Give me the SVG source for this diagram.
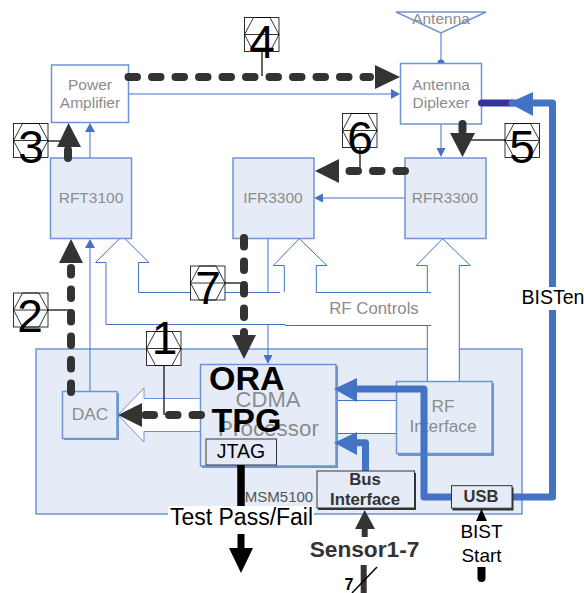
<svg xmlns="http://www.w3.org/2000/svg" width="584" height="593" viewBox="0 0 584 593">
<defs>
<style>
text{font-family:"Liberation Sans",Arial,sans-serif}
.b{fill:none;stroke:#4472c4;stroke-width:1}
.blk{fill:#e6ecf7;stroke:#6f94d2;stroke-width:1.5}
.pl{fill:#fff;stroke:#6f94d2;stroke-width:1.5}
.g{fill:#8c8c8c;text-anchor:middle;font-size:15.500px}
.dash{fill:none;stroke:#333;stroke-width:8;stroke-linecap:round;stroke-dasharray:8.500 15}
.lead{fill:none;stroke:#333;stroke-width:1.500}
.hex{fill:#fff;stroke:#000;stroke-width:.8}
.hexl{fill:none;stroke:#000;stroke-width:.8}
.n{fill:#000;font-size:46px;text-anchor:middle}
.k{fill:#000;text-anchor:middle}
.bus{fill:none;stroke:#4472c4;stroke-width:7;stroke-linejoin:round;stroke-linecap:round}
.chip{fill:#e6ecf7;stroke:#333;stroke-width:1}
.cb{font-weight:700;fill:#333;text-anchor:middle}
</style>
<g id="hexsym"><rect x="0" y="0" width="34.500" height="34" class="hex"/><path d="M0 17 L9 0 H25.500 L34.500 17 L25.500 34 H9 Z M0 17 H34.500" class="hexl"/></g>
</defs>
<rect width="584" height="593" fill="#fff"/>
<g id="msm5100"><rect x="36" y="349" width="486" height="165" class="blk"/><rect x="427.500" y="347" width="31.500" height="35" fill="#fff"/></g>
<g id="connectors">
<path class="b" d="M90 158V130M90 391V247M128 94H393M441 33V63M441 124V150M405 198H322M268 239V292.500M268 324.500V356"/>
<path d="M90 123l-5 9h10zM90 239l-5 9h10zM400 94l-9-5v10zM441 157l-4.500-9h9zM314 198l9-4.500v9zM268 364l-4.500-9h9z" fill="#4472c4"/>
<circle cx="441" cy="63" r="3.500" fill="#4472c4"/>
<path d="M106 262.500H95.500L122.300 236L149 262.500H138.500V292.500H280M106 262.500V324.500H285V325.500H431M284.300 265.500H273.300L299.300 238.700L327 265.500H316.300V292.500H431M284.300 265.500V292M427.300 292.500V265.500H416.300L442.700 238.700L470.300 265.500H459.300V381M427.300 325V381" class="b"/>
<path d="M118 415L144 388V398.500H200.500V431.500H144V442Z" fill="#fff" stroke="#6f94d2"/>
<rect x="336" y="400.500" width="61" height="33" fill="#fff"/>
<path d="M336 400.500H397M336 433.500H397" class="b"/>
</g>
<g id="pa"><rect x="51.500" y="65" width="77" height="57.500" class="pl"/><text class="g" x="90" y="89.500">Power</text><text class="g" x="90" y="108">Amplifier</text></g>
<g id="rft"><rect x="50.500" y="158" width="81" height="80.500" class="blk"/><text class="g" x="91" y="203">RFT3100</text></g>
<g id="ifr"><rect x="233" y="158" width="81" height="80.500" class="blk"/><text class="g" x="273" y="203">IFR3300</text></g>
<g id="rfr"><rect x="405" y="158" width="81" height="80.500" class="blk"/><text class="g" x="445" y="203">RFR3300</text></g>
<g id="diplexer"><rect x="400.500" y="63.500" width="81" height="60.500" class="pl"/><text class="g" x="441" y="89.500">Antenna</text><text class="g" x="441" y="107.500">Diplexer</text></g>
<g id="antenna"><path d="M396 12H486L441 33Z" class="pl" stroke-width="1"/><text class="g" x="441" y="24">Antenna</text></g>
<g id="dac"><rect x="64" y="393" width="55" height="47" fill="#6f94d2"/><rect x="62.500" y="391.500" width="54.500" height="47" class="blk"/><text class="g" style="font-size:17.400px" x="90" y="420">DAC</text></g>
<g id="cdma"><rect x="202" y="366" width="136" height="102" fill="#6f94d2"/><rect x="200.500" y="364.500" width="135.500" height="101.500" class="blk"/><text x="268" y="407" font-size="22" fill="#8c8c8c" text-anchor="middle">CDMA</text><text x="268.500" y="436" font-size="22.400" fill="#8c8c8c" text-anchor="middle">Processor</text></g>
<g id="rfif"><rect x="398" y="383" width="96" height="73" fill="#6f94d2"/><rect x="396.500" y="381.500" width="95.500" height="72" class="blk"/><text class="g" style="font-size:17.300px" x="443" y="412">RF</text><text class="g" style="font-size:17.300px" x="443" y="432">Interface</text></g>
<text x="374" y="314" font-size="16.800" fill="#8c8c8c" text-anchor="middle">RF Controls</text>
<g id="traces">
<path class="dash" d="M128.500 77H370M71 392V268M68 158V150M244 238V340M201 415H145M462.500 124V131M405 171H345"/>
<path d="M400 77L375 65V89ZM71 239L59 263H83ZM68.500 123L57 147H81ZM244 359L232 335H256ZM118 415L142 403V427ZM462.500 157L450 133H475ZM315 171L339 159V183Z" fill="#333"/>
<path d="M481.500 103H512" fill="none" stroke="#333399" stroke-width="7" stroke-linecap="round"/>
<path class="bus" d="M512 103H552.500V497H512"/>
<path d="M509 103L533 92V116Z" fill="#4472c4"/>
<path class="bus" d="M451 497H424V389H350"/>
<path d="M334 389L357 378V402Z" fill="#4472c4"/>
<path class="bus" d="M365.500 470V442.700H350"/>
<path d="M334 442.700L357 432V455Z" fill="#4472c4"/>
<path class="lead" d="M262 50V76M48 141H66M48 310H71M164 365V415M225 283H244M360 148V171M505 140H462"/>
</g>
<g id="jtag"><rect x="206" y="439" width="70.500" height="26" fill="#e6ecf7" stroke="#333"/><text x="241" y="458" font-size="19.500" fill="#000" text-anchor="middle">JTAG</text></g>
<g id="ora" font-weight="700" fill="#000" font-size="34"><text x="209" y="390">ORA</text><text x="211.500" y="431.500">TPG</text></g>
<text x="279" y="502" font-size="15" fill="#555" text-anchor="middle">MSM5100</text>
<path d="M241 465V506" stroke="#000" stroke-width="7.500" fill="none"/>
<rect x="168" y="506" width="146" height="27" fill="#fff"/>
<text class="k" x="241.500" y="525" font-size="23">Test Pass/Fail</text>
<path d="M241 534V552" stroke="#000" stroke-width="7" fill="none"/>
<path d="M241 573L229 548H253Z" fill="#000"/>
<g id="bus-if"><rect x="318" y="473" width="98" height="37" fill="#333"/><rect x="317" y="471" width="97.500" height="37" class="chip"/><text class="cb" x="365" y="485" font-size="16.800">Bus</text><text class="cb" x="365" y="505" font-size="16.800">Interface</text></g>
<g id="usb"><rect x="452.500" y="487.500" width="61" height="23" fill="#333"/><rect x="451.500" y="485.700" width="60.500" height="22.500" class="chip"/><text class="cb" x="481" y="502" font-size="16.500">USB</text></g>
<path d="M364.700 510L355 529H361.700V537H367.700V529H375Z" fill="#333"/>
<text class="cb" x="364.500" y="557" font-size="22.700">Sensor1-7</text>
<path d="M363.700 565V593" stroke="#333" stroke-width="6"/>
<path d="M352 593L377 567" stroke="#000" stroke-width="1.500"/>
<text x="349" y="590" font-size="16" font-weight="700" fill="#000" text-anchor="middle">7</text>
<path d="M481.500 509L476 521H487Z" fill="#000"/>
<text class="k" x="481.500" y="538" font-size="19">BIST</text><text class="k" x="481.500" y="562" font-size="19">Start</text>
<path d="M477.500 567H485.500V578A4 4 0 0 1 477.500 578Z" fill="#000"/>
<rect x="518" y="287" width="66" height="23" fill="#fff"/>
<text class="k" x="553" y="304" font-size="19.500">BISTen</text>
<g id="num1"><use href="#hexsym" x="146.500" y="331.500"/><text class="n" x="164.500" y="353.500">1</text></g>
<g id="num2"><use href="#hexsym" x="13.500" y="293"/><text class="n" x="30" y="332">2</text></g>
<g id="num3"><use href="#hexsym" x="13.500" y="123.500"/><text class="n" x="31" y="163">3</text></g>
<g id="num4"><use href="#hexsym" x="244.500" y="17.500"/><text class="n" x="262" y="58">4</text></g>
<g id="num5"><use href="#hexsym" x="505" y="123.500"/><text class="n" x="522" y="163">5</text></g>
<g id="num6"><use href="#hexsym" x="342.500" y="113.500"/><text class="n" x="360" y="154">6</text></g>
<g id="num7"><use href="#hexsym" x="190.500" y="266"/><text class="n" x="208" y="304">7</text></g>
</svg>
